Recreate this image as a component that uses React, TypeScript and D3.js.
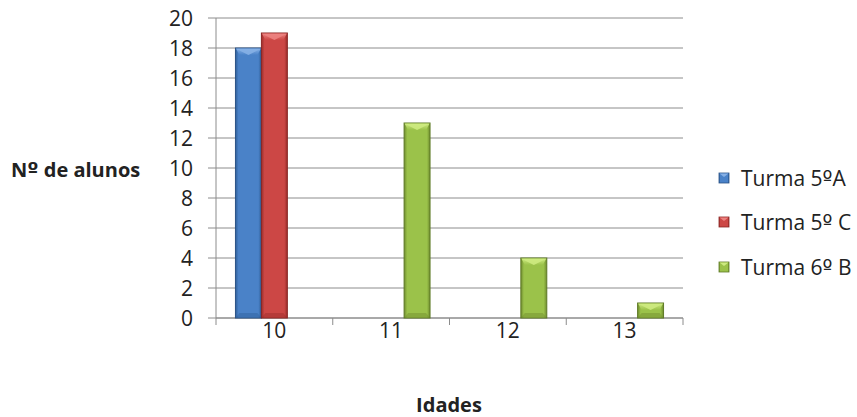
import React from "react";
import * as d3 from "d3";

const ages = ["10", "11", "12", "13"];
const seriesNames = [
  ["Turma 5", "º", "A"],
  ["Turma 5", "º", " C"],
  ["Turma 6", "º", " B"],
];
const turma5A = [18, 0, 0, 0];
const turma5C = [19, 0, 0, 0];
const turma6B = [0, 13, 4, 1];
const yTicks = [0, 2, 4, 6, 8, 10, 12, 14, 16, 18, 20];

const palette = [
  { dark: "#2f5f99", mid: "#4a82c8", light: "#86b0e6", edge: "#2a5286" },
  { dark: "#9a2d2b", mid: "#cc4745", light: "#ec8280", edge: "#8a2624" },
  { dark: "#6f8c2e", mid: "#9bc24a", light: "#cdea80", edge: "#5f7a26" },
];

const W = 857;
const H = 417;
const left = 216;
const right = 683;
const top = 18;
const bottom = 318;
const font = "'Open Sans', 'Noto Sans', sans-serif";
const ordFont = "'DejaVu Sans', 'Liberation Sans', sans-serif";

export default function App() {
  const series = [turma5A, turma5C, turma6B];
  const x = d3.scaleBand<string>().domain(ages).range([left, right]).paddingInner(0).paddingOuter(0);
  const inner = d3
    .scaleBand<number>()
    .domain([0, 1, 2])
    .range([0, x.bandwidth()])
    .paddingInner(0)
    .paddingOuter(0.75);
  const y = d3.scaleLinear().domain([0, 20]).range([bottom, top]);

  const bars: { s: number; i: number; v: number }[] = [];
  series.forEach((vals, s) =>
    vals.forEach((v, i) => {
      if (v > 0) bars.push({ s, i, v });
    })
  );

  const legendY = [178, 222, 267];

  return (
    <svg width={W} height={H} style={{ position: "absolute", left: 0, top: 0, background: "#fff" }}>
      <defs>
        {palette.map((p, k) => (
          <linearGradient key={k} id={`body${k}`} x1="0" x2="1" y1="0" y2="0">
            <stop offset="0" stopColor={p.dark} />
            <stop offset="0.12" stopColor={p.mid} />
            <stop offset="0.5" stopColor={p.mid} />
            <stop offset="0.88" stopColor={p.mid} />
            <stop offset="1" stopColor={p.dark} />
          </linearGradient>
        ))}
        {palette.map((p, k) => (
          <linearGradient key={`t${k}`} id={`top${k}`} x1="0" x2="0" y1="0" y2="1">
            <stop offset="0" stopColor={p.light} />
            <stop offset="1" stopColor={p.mid} />
          </linearGradient>
        ))}
      </defs>

      {/* horizontal grid and y ticks */}
      {yTicks.map((t) => (
        <g key={t}>
          <line x1={left - 8} x2={right} y1={y(t)} y2={y(t)} stroke="#8c8c8c" strokeWidth={1} />
          <text
            x={193}
            y={y(t)}
            dy="0.36em"
            textAnchor="end"
            fontFamily={font}
            fontSize={21}
            fill="#222"
          >
            {t}
          </text>
        </g>
      ))}

      {/* axes */}
      <line x1={left} x2={left} y1={top} y2={bottom} stroke="#8c8c8c" strokeWidth={1} />
      <line x1={left} x2={right} y1={bottom} y2={bottom} stroke="#8c8c8c" strokeWidth={1} />
      {ages.map((a) => (
        <line key={a} x1={x(a)!} x2={x(a)!} y1={bottom} y2={bottom + 7} stroke="#8c8c8c" />
      ))}
      <line x1={right} x2={right} y1={bottom} y2={bottom + 7} stroke="#8c8c8c" />

      {/* bars with a bevelled top and base */}
      {bars.map(({ s, i, v }) => {
        const bx = x(ages[i])! + inner(s)!;
        const bw = inner.bandwidth();
        const by = y(v);
        const bh = bottom - by;
        const bev = Math.min(7, bh / 2);
        const p = palette[s];
        return (
          <g key={`${s}-${i}`}>
            <rect x={bx} y={by} width={bw} height={bh} fill={`url(#body${s})`} stroke={p.edge} strokeWidth={1} />
            <polygon
              points={`${bx + 0.5},${by + 0.5} ${bx + bw - 0.5},${by + 0.5} ${bx + bw - 4},${by + bev} ${bx + 4},${by + bev}`}
              fill={`url(#top${s})`}
            />
            <polygon
              points={`${bx + 1},${by + 1} ${bx + bw - 1},${by + 1} ${bx + bw / 2},${by + bev}`}
              fill={p.light}
              opacity={0.9}
            />
            {bh > 10 && (
              <polygon
                points={`${bx + 4},${bottom - 5} ${bx + bw - 4},${bottom - 5} ${bx + bw - 0.5},${bottom - 0.5} ${bx + 0.5},${bottom - 0.5}`}
                fill={p.dark}
                opacity={0.45}
              />
            )}
          </g>
        );
      })}

      {/* x tick labels */}
      {ages.map((a) => (
        <text
          key={a}
          x={x(a)! + x.bandwidth() / 2}
          y={330}
          dy="0.36em"
          textAnchor="middle"
          fontFamily={font}
          fontSize={21}
          fill="#222"
        >
          {a}
        </text>
      ))}

      {/* axis titles */}
      <text x={11} y={170} dy="0.36em" fontFamily={font} fontSize={20} fontWeight="bold" fill="#222">
        N<tspan fontFamily={ordFont}>º</tspan> de alunos
      </text>
      <text x={449} y={405} dy="0.36em" textAnchor="middle" fontFamily={font} fontSize={20} fontWeight="bold" fill="#222">
        Idades
      </text>

      {/* legend */}
      {seriesNames.map((parts, k) => (
        <g key={k}>
          <rect x={719} y={legendY[k] - 5} width={10} height={10} fill={`url(#body${k})`} stroke={palette[k].edge} strokeWidth={0.8} />
          <polygon
            points={`${719.5},${legendY[k] - 4.5} ${728.5},${legendY[k] - 4.5} ${724},${legendY[k] - 1}`}
            fill={palette[k].light}
          />
          <text x={741} y={legendY[k]} dy="0.36em" fontFamily={font} fontSize={21} fill="#222">
            {parts[0]}
            <tspan fontFamily={ordFont}>{parts[1]}</tspan>
            {parts[2]}
          </text>
        </g>
      ))}
    </svg>
  );
}
